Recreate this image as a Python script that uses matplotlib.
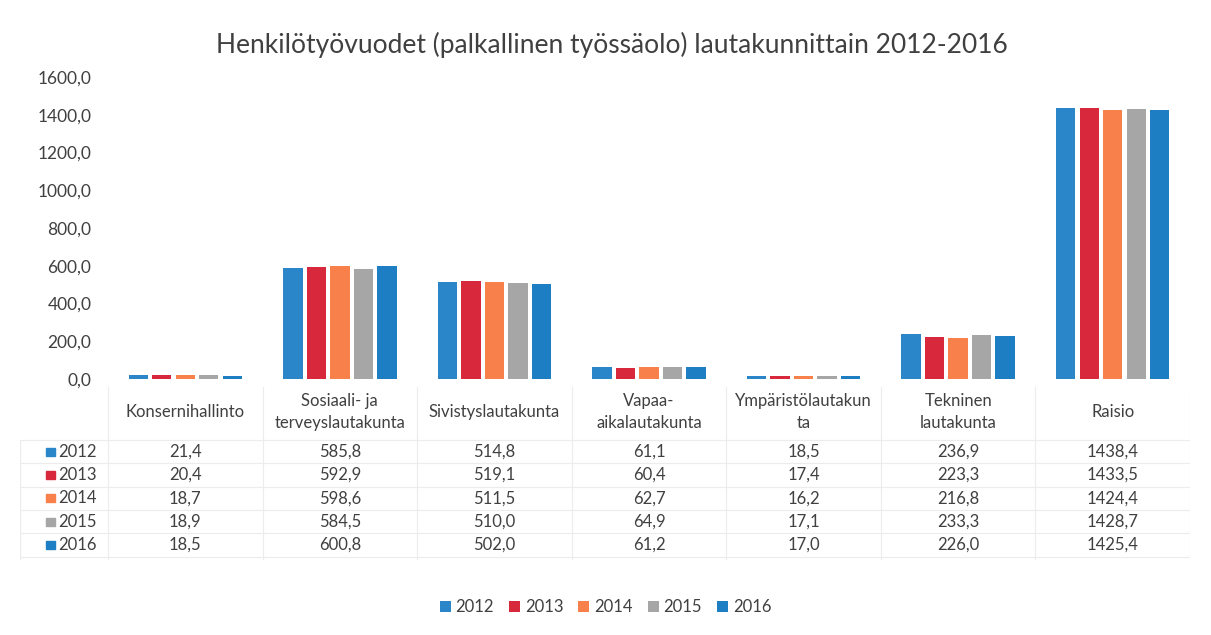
import numpy as np
import matplotlib
matplotlib.use("Agg")
import matplotlib.pyplot as plt
from matplotlib.patches import Rectangle

plt.rcParams['font.family'] = ['Lato', 'DejaVu Sans']

categories = ['Konsernihallinto', 'Sosiaali- ja\nterveyslautakunta', 'Sivistyslautakunta',
              'Vapaa-\naikalautakunta', 'Ympäristölautakun\nta', 'Tekninen\nlautakunta', 'Raisio']
years = ['2012', '2013', '2014', '2015', '2016']
v2012 = [21.4, 585.8, 514.8, 61.1, 18.5, 236.9, 1438.4]
v2013 = [20.4, 592.9, 519.1, 60.4, 17.4, 223.3, 1433.5]
v2014 = [18.7, 598.6, 511.5, 62.7, 16.2, 216.8, 1424.4]
v2015 = [18.9, 584.5, 510.0, 64.9, 17.1, 233.3, 1428.7]
v2016 = [18.5, 600.8, 502.0, 61.2, 17.0, 226.0, 1425.4]
series = [v2012, v2013, v2014, v2015, v2016]
colors = ['#2a86c8', '#d8283c', '#f8804b', '#a6a6a6', '#1d7ec3']

W, H = 1211, 635
fig = plt.figure(figsize=(W / 100, H / 100), dpi=100)
fig.patch.set_facecolor('white')
text_col = '#404040'
fs = 12

# bar area
x0, x1 = 108, 1190
ytop, ybot = 77, 379
ax = fig.add_axes([x0 / W, 1 - ybot / H, (x1 - x0) / W, (ybot - ytop) / H])
n = len(categories)
x = np.arange(n)
slot = 0.152
bw = 0.125
for i, (vals, c) in enumerate(zip(series, colors)):
    ax.bar(x + (i - 2) * slot, vals, width=bw, color=c, label=years[i])
ax.set_xlim(-0.5, n - 0.5)
ax.set_ylim(0, 1600)
ax.set_yticks(np.arange(0, 1601, 200))
ax.set_yticklabels([f'{t:.1f}'.replace('.', ',') for t in np.arange(0, 1601, 200)],
                   fontsize=12.5, color=text_col)
ax.set_xticks([])
ax.tick_params(axis='y', length=0, pad=12)
for s in ax.spines.values():
    s.set_visible(False)

fig.text(0.505, 1 - 45 / H, 'Henkilötyövuodet (palkallinen työssäolo) lautakunnittain 2012-2016',
         ha='center', va='center', fontsize=19, color=text_col)

# data table
tl, tt, tb = 20, 387, 560
ppu = (x1 - x0) / n
tax = fig.add_axes([tl / W, 1 - tb / H, (x1 - tl) / W, (tb - tt) / H])
left_u = -0.5 - (x0 - tl) / ppu
tax.set_xlim(left_u, n - 0.5)
tax.set_ylim(tb, tt)
tax.axis('off')
grid_col = '#ececec'
header_bot = 440
row_h = 23.3
for k in range(n + 1):
    tax.plot([k - 0.5, k - 0.5], [tt, tb], color=grid_col, lw=0.8)
tax.plot([left_u, left_u], [header_bot, tb], color=grid_col, lw=0.8)
for r in range(6):
    yy = header_bot + r * row_h
    tax.plot([left_u, n - 0.5], [yy, yy], color=grid_col, lw=0.8)
for k, cat in enumerate(categories):
    tax.text(k, 412, cat, ha='center', va='center', fontsize=fs, color=text_col,
             linespacing=1.45)
for r, (vals, c, yr) in enumerate(zip(series, colors, years)):
    yc = header_bot + (r + 0.5) * row_h
    for k, v in enumerate(vals):
        tax.text(k, yc, f'{v:.1f}'.replace('.', ','), ha='center', va='center',
                 fontsize=fs, color=text_col)
    kx = left_u + 0.17
    tax.add_patch(Rectangle((kx, yc - 4), 0.055, 8, color=c, transform=tax.transData))
    tax.text(kx + 0.075, yc, yr, ha='left', va='center', fontsize=fs, color=text_col)

leg = fig.legend(loc='center', bbox_to_anchor=(0.5, 1 - 607 / H), ncol=5, frameon=False,
                 fontsize=fs, handlelength=0.65, handleheight=0.65, columnspacing=0.9,
                 handletextpad=0.3)
for t in leg.get_texts():
    t.set_color(text_col)

fig.savefig('out.png', dpi=100)
